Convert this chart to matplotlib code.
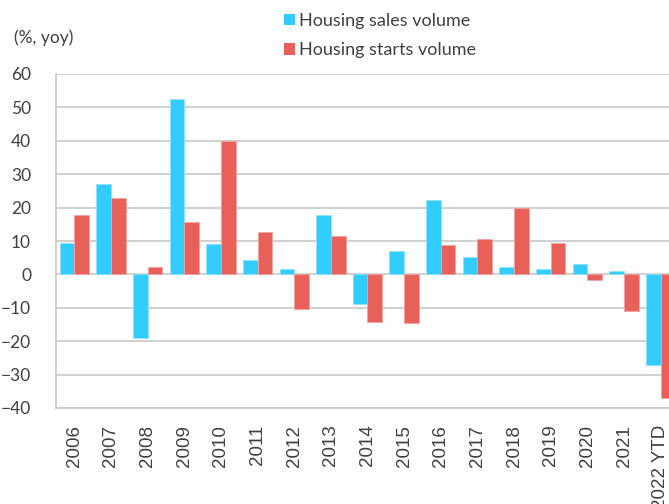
import numpy as np
import matplotlib.pyplot as plt

# Data
years = ['2006', '2007', '2008', '2009', '2010', '2011', '2012', '2013', '2014',
         '2015', '2016', '2017', '2018', '2019', '2020', '2021', '2022 YTD']
sales = [9.5, 27.0, -19.0, 52.5, 9.2, 4.3, 1.5, 17.7, -9.0,
         6.9, 22.4, 5.3, 2.2, 1.5, 3.2, 1.1, -27.1]
starts = [17.7, 23.0, 2.3, 15.8, 40.0, 12.8, -10.5, 11.6, -14.4,
          -14.5, 8.7, 10.5, 19.8, 9.3, -1.7, -11.0, -37.0]

BLUE = '#33CCFF'
RED = '#E8605A'
GRID = '#C8C8C8'
TXT = '#404040'

fig = plt.figure(figsize=(6.69, 5.04), dpi=100)
# axes runs a bit past the right edge, like the cropped original
ax = fig.add_axes([56 / 669, 96 / 504, 623 / 669, 334 / 504])

x = np.arange(len(years))
w = 0.4
ax.bar(x - w / 2, sales, w, color=BLUE, edgecolor='#8FE3FF', linewidth=0.6,
       label='Housing sales volume', zorder=3)
ax.bar(x + w / 2, starts, w, color=RED, edgecolor='#F2A3A0', linewidth=0.6,
       label='Housing starts volume', zorder=3)

ax.set_xlim(-0.5, len(years) - 0.5)
ax.set_ylim(-40, 60)
ax.set_yticks(np.arange(-40, 61, 10))
ax.yaxis.grid(True, color=GRID, linewidth=1.2, zorder=0)
ax.set_axisbelow(True)

ax.set_xticks(x)
ax.set_xticklabels(years, rotation=90, fontsize=13.5, color=TXT,
                   family='Liberation Sans')
for lab in ax.get_yticklabels():
    lab.set_family('Lato')
    lab.set_fontsize(12.5)
    lab.set_color(TXT)
ax.tick_params(length=0)
ax.tick_params(axis='y', pad=18)
ax.tick_params(axis='x', pad=12)

for s in ['top', 'right']:
    ax.spines[s].set_visible(False)
ax.spines['left'].set_color(GRID)
ax.spines['left'].set_linewidth(1.2)
ax.spines['bottom'].set_color(GRID)
ax.spines['bottom'].set_linewidth(1.2)

fig.text(14 / 669, 1 - 38 / 504, '(%, yoy)', fontsize=12.5, color=TXT,
         family='Lato', va='center', ha='left')

leg = fig.legend(loc='upper left', bbox_to_anchor=(284 / 669, 1 - 13 / 504),
                 frameon=False, handlelength=0.6, handleheight=0.6,
                 handletextpad=0.25, labelspacing=0.73,
                 borderpad=0, borderaxespad=0,
                 prop={'family': 'Lato', 'size': 13})
for t in leg.get_texts():
    t.set_color(TXT)
for h in leg.legend_handles:
    h.set_edgecolor('none')

plt.savefig('out.png', dpi=100)
